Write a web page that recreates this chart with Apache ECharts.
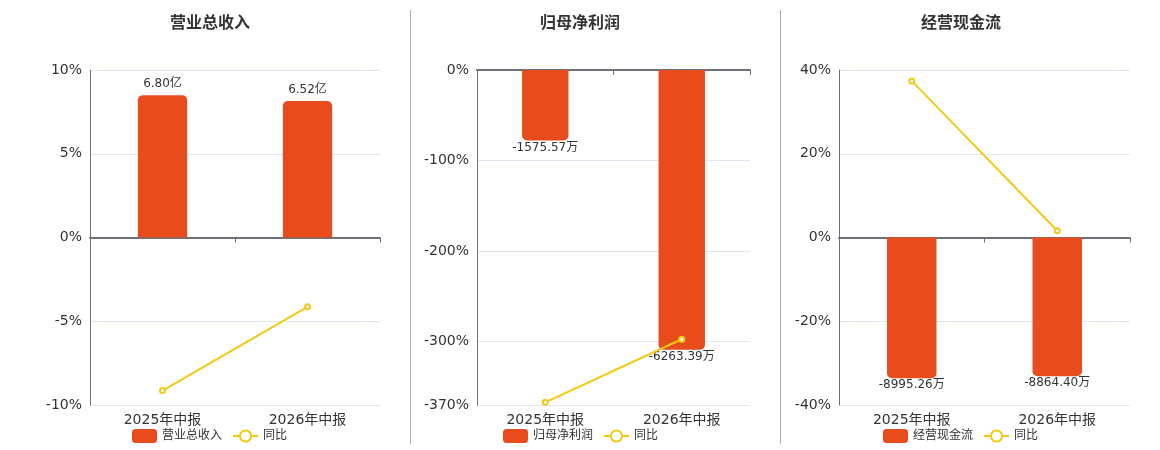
<!DOCTYPE html>
<html>
<head>
<meta charset="utf-8">
<title>ECharts</title>
<script src="https://cdn.jsdelivr.net/npm/echarts@6/dist/echarts.min.js"></script>
<style>
  html, body { margin: 0; padding: 0; background: #fff; }
</style>
</head>
<body>
<div id="main" style="width: 1160px;height:450px;"></div>
<script type="text/javascript">
// data
var categories = ['2025年中报', '2026年中报'];
var revenue = [6.80, 6.52];            // 亿
var revenueYoy = [-9.14, -4.14];       // %
var netProfit = [-1575.57, -6263.39];  // 万
var netProfitYoy = [-367.1, -297.4];   // %
var cashFlow = [-8995.26, -8864.40];   // 万
var cashFlowYoy = [37.4, 1.6];         // %

var barColor = '#E84C1D';
var lineColor = '#F2CA16';
var textColor = '#333';
var font = '"DejaVu Sans", "Noto Sans CJK SC", sans-serif';

// one panel = label x axis + zero-line x axis, percent y axis + hidden bar y axis
var panels = [
  { title: '营业总收入', name: '营业总收入', bars: revenue, unit: '亿', yoy: revenueYoy,
    center: 210, left: 90, width: 290, legendLeft: 127,
    pMin: -10, pMax: 10, pInterval: 5, bMin: -8, bMax: 8, labelPos: 'top', radius: [5, 5, 0, 0] },
  { title: '归母净利润', name: '归母净利润', bars: netProfit, unit: '万', yoy: netProfitYoy,
    center: 580, left: 477, width: 273, legendLeft: 498,
    pMin: -370, pMax: 0, pInterval: null, bMin: -7500, bMax: 0, labelPos: 'bottom', radius: [0, 0, 5, 5] },
  { title: '经营现金流', name: '经营现金流', bars: cashFlow, unit: '万', yoy: cashFlowYoy,
    center: 961, left: 839, width: 291, legendLeft: 878,
    pMin: -40, pMax: 40, pInterval: 20, bMin: -10700, bMax: 10700, labelPos: 'bottom', radius: [0, 0, 5, 5] }
];

var title = [], grid = [], xAxis = [], yAxis = [], legend = [], series = [];

panels.forEach(function (p, i) {
  title.push({
    text: p.title,
    left: p.center - 5,
    top: 11,
    textAlign: 'center',
    textVerticalAlign: 'top',
    textStyle: { fontSize: 16, fontWeight: 'bold', color: textColor, fontFamily: font }
  });
  grid.push({ left: p.left, width: p.width, top: 70, height: 335 });

  // labels along the bottom
  xAxis.push({
    type: 'category', gridIndex: i, data: categories, position: 'bottom',
    axisLine: { show: false, onZero: false },
    axisTick: { show: false },
    axisLabel: { fontSize: 14, color: textColor, fontFamily: font }
  });
  // zero line
  xAxis.push({
    type: 'category', gridIndex: i, data: categories, position: 'bottom',
    axisLine: { onZero: true, onZeroAxisIndex: i * 2, lineStyle: { color: '#6E7079', width: 2 } },
    axisTick: { show: true, length: 5, lineStyle: { color: '#6E7079' } },
    axisLabel: { show: false }
  });

  var pAxis = {
    type: 'value', gridIndex: i, min: p.pMin, max: p.pMax,
    axisLine: { show: true, lineStyle: { color: '#6E7079' } },
    axisTick: { show: false },
    axisLabel: { fontSize: 14, color: textColor, formatter: '{value}%', fontFamily: font },
    splitLine: { lineStyle: { color: '#E0E6F1' } }
  };
  if (p.pInterval) pAxis.interval = p.pInterval;
  yAxis.push(pAxis);
  yAxis.push({
    type: 'value', gridIndex: i, min: p.bMin, max: p.bMax, show: false,
    splitLine: { show: false }
  });

  legend.push({
    left: p.legendLeft, top: 424,
    data: [p.name, '同比'],
    itemWidth: 25, itemHeight: 14, itemGap: 10,
    textStyle: { fontSize: 12, color: textColor, fontFamily: font }
  });

  series.push({
    name: p.name, type: 'bar',
    xAxisIndex: i * 2, yAxisIndex: i * 2 + 1,
    data: p.bars, barWidth: '34%',
    itemStyle: { color: barColor, borderRadius: p.radius },
    label: {
      show: true, position: p.labelPos, distance: p.labelPos === 'top' ? 5 : 1,
      fontSize: 12, color: textColor, fontFamily: font,
      formatter: function (param) { return param.value.toFixed(2) + p.unit; }
    },
    z: 2
  });
  series.push({
    name: '同比', type: 'line',
    xAxisIndex: i * 2, yAxisIndex: i * 2,
    data: p.yoy,
    symbol: 'emptyCircle', symbolSize: 5,
    lineStyle: { color: lineColor, width: 2 },
    itemStyle: { color: lineColor },
    z: 3
  });
});

var myChart = echarts.init(document.getElementById('main'));
myChart.setOption({
  animation: false,
  textStyle: { fontFamily: font },
  title: title,
  grid: grid,
  xAxis: xAxis,
  yAxis: yAxis,
  legend: legend,
  series: series,
  graphic: [
    { type: 'line', shape: { x1: 410.5, y1: 10, x2: 410.5, y2: 444 }, style: { stroke: '#aaa', lineWidth: 1 } },
    { type: 'line', shape: { x1: 780.5, y1: 10, x2: 780.5, y2: 444 }, style: { stroke: '#aaa', lineWidth: 1 } }
  ]
});
</script>
</body>
</html>
